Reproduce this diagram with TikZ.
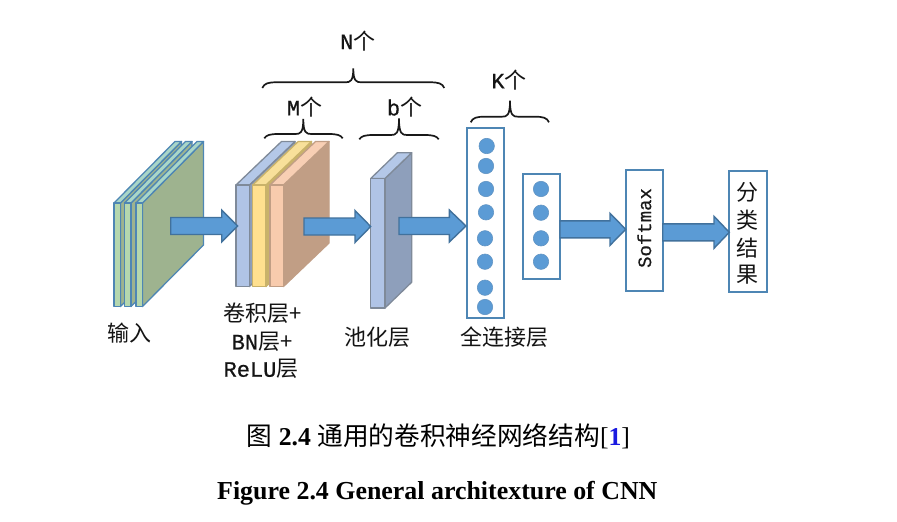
\documentclass[tikz,border=0pt]{standalone}
\usepackage{fontspec}
\setmainfont{Liberation Serif}
\newfontfamily\cjk{Noto Sans CJK SC}
\newfontfamily\lat[FakeBold=0.6]{Liberation Mono}
\definecolor{arrowfill}{HTML}{5B9BD5}
\definecolor{arrowline}{HTML}{41719C}
\definecolor{stackline}{HTML}{4E86B4}
\definecolor{stackfront}{HTML}{B5D7AE}
\definecolor{stackfrontT}{HTML}{A9D6C8}
\definecolor{stackside}{HTML}{9EB38F}
\definecolor{blueF}{HTML}{B0C4E6}
\definecolor{blueFT}{HTML}{B4C8E8}
\definecolor{blueS}{HTML}{8E9FBB}
\definecolor{yelF}{HTML}{FFE08F}
\definecolor{yelFT}{HTML}{F8E09A}
\definecolor{yelS}{HTML}{C9B26A}
\definecolor{orgF}{HTML}{F8CBAD}
\definecolor{orgFT}{HTML}{F8CFB4}
\definecolor{orgS}{HTML}{C19E85}
\definecolor{greyline}{HTML}{7F8A99}
\definecolor{citeblue}{HTML}{1A1AE0}
\newcommand{\slab}[9]{% x1 x2 ybot ytop dx dy front side line
  \path[draw=#9,line width=1.3pt,line join=round,fill=#8] (#2,#3)--(#2+#5,#3-#6)--(#2+#5,#4-#6)--(#2,#4)--cycle;
  \path[draw=#9,line width=1.3pt,line join=round,fill=#7T] (#1,#4)--(#1+#5,#4-#6)--(#2+#5,#4-#6)--(#2,#4)--cycle;
  \path[draw=#9,line width=1.3pt,line join=round,fill=#7] (#1,#3) rectangle (#2,#4);
}
\newcommand{\blockarrow}[7]{% name x1 x2 xhead ymid halfshaft halfhead
  \path[blockarr] (#2,#5-#6)--(#4,#5-#6)--(#4,#5-#7)--(#3,#5)--(#4,#5+#7)--(#4,#5+#6)--(#2,#5+#6)--cycle;
  \coordinate (#1) at (#3,#5);
}
\newcommand{\curlybrace}[6]{% xl xr xm ybot ymid ytip
  \draw[bracestyle] (#1,#4) .. controls (#1+2,#5+1) and (#1+6,#5) .. (#1+14,#5)
    -- (#3-8,#5) .. controls (#3-3,#5) and (#3,#5-1) .. (#3,#6)
    (#3,#6) .. controls (#3,#5-1) and (#3+3,#5) .. (#3+8,#5)
    -- (#2-14,#5) .. controls (#2-6,#5) and (#2-2,#5+1) .. (#2,#4);
}
\tikzset{
  x=1pt,y=-1pt,
  blockarr/.style={draw=arrowline,line width=1.4pt,fill=arrowfill},
  bracestyle/.style={draw=black!90,line width=1.7pt},
  fcbox/.style={draw=stackline,line width=1.7pt,fill=white},
  neuron/.style={circle,fill=arrowfill,draw=arrowfill!80!gray,line width=0.6pt,minimum size=15.4pt,inner sep=0pt},
  lab/.style={inner sep=0pt,font=\cjk\fontsize{22}{24}\selectfont,text=black!92,align=center},
}
\begin{document}
\begin{tikzpicture}
\useasboundingbox (0,0) rectangle (897,522);
\fill[white] (0,0) rectangle (897,522);
% input stack
\slab{114}{120.5}{306.5}{203}{61}{61.5}{stackfront}{stackside}{stackline}
\slab{124.5}{131}{306.5}{203}{61}{61.5}{stackfront}{stackside}{stackline}
\slab{136}{142.5}{306.5}{203}{61}{61.5}{stackfront}{stackside}{stackline}
% conv stack
\slab{236}{249.5}{286.5}{185}{45.5}{43.5}{blueF}{blueS}{greyline}
\slab{252.7}{266}{286.5}{185}{45.5}{43.5}{yelF}{yelS}{yelS}
\slab{270}{283.5}{286.5}{185}{45.5}{43.5}{orgF}{orgS}{orgS}
% pooling
\slab{370.7}{385}{308}{178.5}{26.7}{25.8}{blueF}{blueS}{greyline}
% FC boxes
\node[fcbox,minimum width=37.3pt,minimum height=190.6pt,inner sep=0pt] (fc1) at (485.3,223) {};
\node[fcbox,minimum width=37pt,minimum height=104.4pt,inner sep=0pt] (fc2) at (541.2,226.5) {};
\foreach \n/\x/\y in {a/486.7/146,b/486/166,c/486/189,d/486/212.3,e/485/238.3,f/485/261.7,g/485/287.7,h/485/307}
  \node[neuron] (n\n) at (\x,\y) {};
\foreach \n/\y in {a/189,b/212.7,c/238.3,d/261.7}
  \node[neuron] (m\n) at (541,\y) {};
% softmax & result
\node[fcbox,minimum width=37pt,minimum height=121pt,inner sep=0pt] (soft) at (644.2,230.8) {};
\node[inner sep=0pt,rotate=90,font=\lat\fontsize{19}{23}\selectfont,text=black!90] (softt) at (644.3,228) {Softmax};
\node[fcbox,minimum width=38.3pt,minimum height=120.7pt,inner sep=0pt] (res) at (748.1,231.3) {};
\foreach \n/\t/\y in {ra/分/192.3,rb/类/220,rc/结/248.3,rd/果/275}
  \node[lab,font=\cjk\fontsize{22}{24}\selectfont] (\n) at (747.7,\y) {\t};
% block arrows
\blockarrow{a1}{170.7}{237.7}{221.7}{226}{8.5}{16}
\blockarrow{a2}{304}{370.7}{355}{226.5}{8.5}{16}
\blockarrow{a3}{399}{466}{449.3}{226}{8.5}{16}
\blockarrow{a4}{560}{625.7}{610}{229.3}{8.5}{16}
\blockarrow{a5}{662.7}{729.3}{714}{232.3}{8.5}{16}
% braces
\curlybrace{262.3}{444.3}{353.3}{88}{82.3}{68.3}
\curlybrace{264.3}{342.7}{303.3}{138.3}{134}{119}
\curlybrace{359.3}{438.7}{399}{139.3}{135}{118.3}
\curlybrace{470.7}{549}{510}{122.3}{116.7}{100.7}
% labels
\node[lab] (ln) at (357.8,40.7) {{\lat N}个};
\node[lab] (lm) at (304.5,107) {{\lat M}个};
\node[lab] (lb) at (404.5,107) {{\lat b}个};
\node[lab] (lk) at (509,80) {{\lat K}个};
\node[lab] (l1) at (129.3,333) {输入};
\node[lab] (l2a) at (263,313) {卷积层+};
\node[lab] (l2b) at (262,341.7) {{\lat BN}层+};
\node[lab] (l2c) at (261,369) {{\lat ReLU}层};
\node[lab] (l3) at (377.7,337.3) {池化层};
\node[lab] (l4) at (504.5,337.3) {全连接层};
% captions
\node[inner sep=0pt,font=\fontsize{25.7}{28}\selectfont,text=black] (cap1) at (438.3,436)
  {{\cjk 图} \textbf{2.4} {\cjk 通用的卷积神经网络结构}[\textcolor{citeblue}{\textbf{1}}]};
\node[inner sep=0pt,font=\bfseries\fontsize{25.9}{28}\selectfont,text=black] (cap2) at (437.3,493.5)
  {Figure 2.4 General architexture of CNN};
\end{tikzpicture}
\end{document}
